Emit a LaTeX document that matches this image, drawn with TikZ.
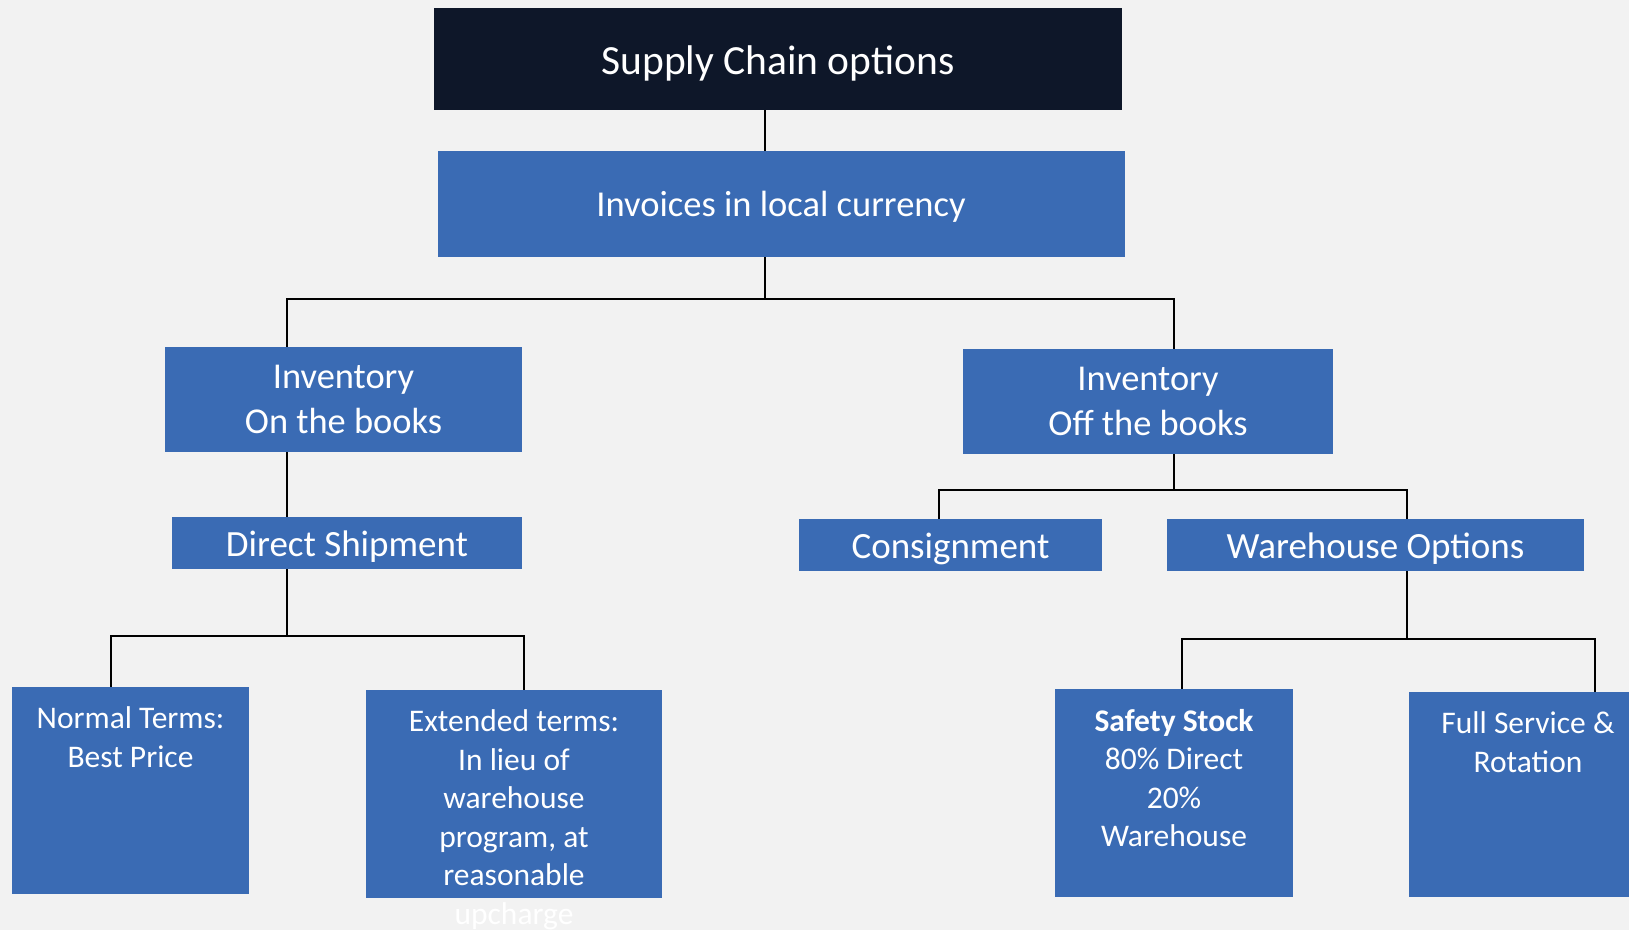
\documentclass[tikz,border=0pt]{standalone}
\usepackage{fontspec}
\setmainfont{Carlito}
\definecolor{pageback}{RGB}{242,242,242}
\definecolor{topnavy}{RGB}{14,23,41}
\definecolor{boxblue}{RGB}{58,107,180}
\tikzset{
    box/.style={fill=boxblue, text=white, inner sep=0pt, align=center},
    headbox/.style={box, fill=topnavy},
    optbox/.style={box, minimum height=52pt, font=\fontsize{37}{44}\selectfont, text height=34pt, text depth=8pt},
    link/.style={draw=black, line width=2.8pt},
}
% tall boxes of the lowest row, text sitting at the top
\newcommand{\tallbox}[3]{\parbox[c][#2][t]{#1}{\centering\vspace{20pt}#3}}
\begin{document}
\begin{tikzpicture}[x=1pt, y=-1pt]
    \clip (0,0) rectangle (1629,930);
    \fill[pageback] (0,0) rectangle (1629,930);

    \node[headbox, minimum width=688pt, minimum height=102pt, font=\fontsize{41.5}{50}\selectfont, text height=39pt, text depth=9pt] (top) at (778,59) {Supply Chain options};
    \node[box, minimum width=687pt, minimum height=106pt, font=\fontsize{36.5}{44}\selectfont, text height=32pt, text depth=8pt] (inv) at (781,204) {Invoices in local currency};

    \node[box, minimum width=357pt, minimum height=105pt, font=\fontsize{36.4}{44.5}\selectfont] (onbooks) at (343.5,399.5) {Inventory\\On the books};
    \node[box, minimum width=370pt, minimum height=105pt, font=\fontsize{36.4}{44.5}\selectfont] (offbooks) at (1148,401.5) {Inventory\\Off the books};

    \node[optbox, minimum width=350pt] (direct) at (347,543) {Direct Shipment};
    \node[optbox, minimum width=303pt] (consign) at (950.5,545) {Consignment};
    \node[optbox, minimum width=417pt] (wareh) at (1375.5,545) {Warehouse Options};

    \begin{scope}[every node/.append style={font=\fontsize{31.5}{38.5}\selectfont}]
        \node[box] (normal) at (130.5,790.5) {\tallbox{237pt}{207pt}{Normal Terms:\\Best Price}};
        \node[box] (extended) at (514,794) {\tallbox{296pt}{208pt}{Extended terms:\\In lieu of\\warehouse\\program, at\\reasonable\\upcharge}};
        \node[box] (safety) at (1174,793) {\tallbox{238pt}{208pt}{\textbf{Safety Stock}\\80\% Direct\\20\%\\Warehouse}};
        \node[box] (fullserv) at (1528,794.5) {\tallbox{238pt}{205pt}{Full Service \&\\Rotation}};
    \end{scope}

    % branch points
    \coordinate (j0) at (765,299);
    \coordinate (jL) at (287,299);
    \coordinate (jR) at (1174,299);
    \coordinate (d0) at (287,636);
    \coordinate (d1) at (111,636);
    \coordinate (d2) at (524,636);
    \coordinate (o0) at (1174,490);
    \coordinate (o1) at (939,490);
    \coordinate (o2) at (1407,490);
    \coordinate (w0) at (1407,639);
    \coordinate (w1) at (1182,639);
    \coordinate (w2) at (1595,639);

    \draw[link] (top.south -| j0) -- (inv.north -| j0);
    \draw[link] (inv.south -| j0) -- (j0);
    \draw[link] (onbooks.north -| jL) -- (jL) -- (jR) -- (offbooks.north -| jR);
    \draw[link] (onbooks.south -| jL) -- (direct.north -| jL);

    \draw[link] (direct.south -| d0) -- (d0);
    \draw[link] (normal.north -| d1) -- (d1) -- (d2) -- (extended.north -| d2);

    \draw[link] (offbooks.south -| o0) -- (o0);
    \draw[link] (consign.north -| o1) -- (o1) -- (o2) -- (wareh.north -| o2);

    \draw[link] (wareh.south -| w0) -- (w0);
    \draw[link] (safety.north -| w1) -- (w1) -- (w2) -- (fullserv.north -| w2);
\end{tikzpicture}
\end{document}
